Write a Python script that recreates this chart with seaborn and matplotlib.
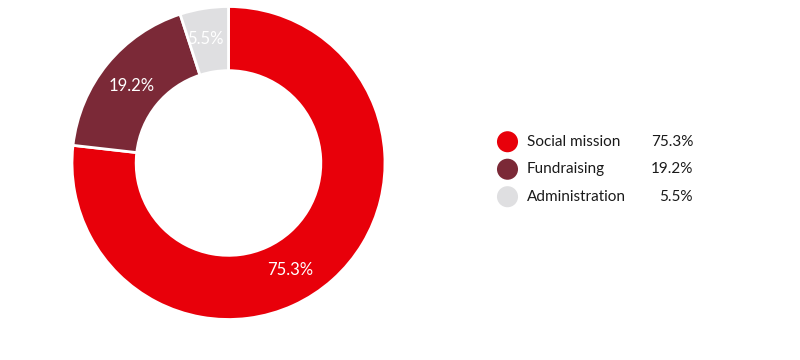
import matplotlib
matplotlib.use("Agg")
import matplotlib.pyplot as plt
import seaborn as sns
import numpy as np
import pandas as pd

categories = ["Social mission", "Fundraising", "Administration"]
# slice sizes as drawn in the reference (the printed labels are below)
shares = [76.8, 18.2, 5.0]
value_labels = ["75.3%", "19.2%", "5.5%"]
colors = ["#E8000A", "#7B2937", "#DFDFE1"]

sns.set_theme(style="white")
plt.rcParams["font.family"] = ["Lato", "DejaVu Sans"]

fig = plt.figure(figsize=(8, 3.6), dpi=100)
W, H = 800, 360

# Donut axes
cx, cy, R = 228.5, 163, 156.5
ax = fig.add_axes([(cx - R) / W, (H - cy - R) / H, 2 * R / W, 2 * R / H])
wedges, texts = ax.pie(
    shares, colors=colors, startangle=90, counterclock=False,
    radius=1.0, wedgeprops=dict(width=0.41, edgecolor="white", linewidth=2),
)
label_angles = [-59.4, None, 100.6]
label_r = [0.775, 0.80, 0.82]
for i, (w, lab) in enumerate(zip(wedges, value_labels)):
    a = label_angles[i] if label_angles[i] is not None else (w.theta1 + w.theta2) / 2
    t = np.deg2rad(a)
    ax.text(label_r[i] * np.cos(t), label_r[i] * np.sin(t) - 0.015, lab,
            ha="center", va="center", color="white", fontsize=12)
ax.set_xlim(-1, 1)
ax.set_ylim(-1, 1)
ax.set_aspect("equal")
ax.axis("off")

# Legend axes
lx0, lx1, ly0, ly1 = 490, 710, 128, 211
lax = fig.add_axes([lx0 / W, (H - ly1) / H, (lx1 - lx0) / W, (ly1 - ly0) / H])
df = pd.DataFrame({"cat": categories, "row": np.arange(len(categories)), "x": 0.0})
sns.scatterplot(data=df, x="x", y="row", hue="cat", palette=colors, s=230,
                edgecolor="none", legend=False, ax=lax)
lax.set_xlim(-17.5, 202.5)
lax.set_ylim(len(categories) - 0.5 + 0.02, -0.5)
for i, (c, v) in enumerate(zip(categories, value_labels)):
    lax.text(19.5, i, c, va="center", ha="left", fontsize=11, color="#1a1a1a")
    lax.text(185.5, i, v, va="center", ha="right", fontsize=11, color="#1a1a1a")
lax.axis("off")

fig.savefig("out.png", dpi=100, facecolor="white")
